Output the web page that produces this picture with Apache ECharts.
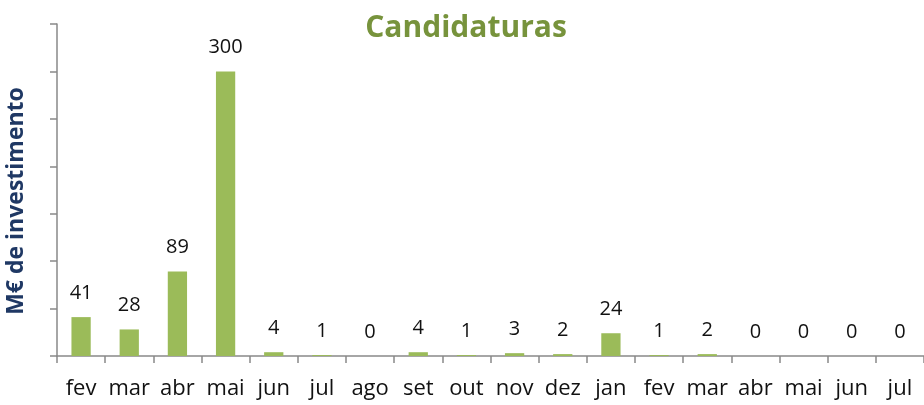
<!DOCTYPE html>
<html><head><meta charset="utf-8">
<script src="https://cdn.jsdelivr.net/npm/echarts@6/dist/echarts.min.js"></script>
<style>html,body{margin:0;padding:0;background:#fff}#c{width:924px;height:405px}</style>
</head><body><div id="c"></div>
<script>
const categories = ['fev','mar','abr','mai','jun','jul','ago','set','out','nov','dez','jan','fev','mar','abr','mai','jun','jul'];
const values = [41,28,89,300,4,1,0,4,1,3,2,24,1,2,0,0,0,0];
const yTicks = {min:0, max:350, interval:50};
const FONT = 'Open Sans';
const chart = echarts.init(document.getElementById('c'), null, {renderer:'canvas'});
chart.setOption({
  animation:false,
  title:{text:'Candidaturas', left:466, textAlign:'center', top:13, padding:[0,0,0,0],
    textStyle:{color:'#77933C', fontFamily:FONT, fontWeight:'bold', fontSize:30}},
  grid:{left:57, right:0, top:24, bottom:49, containLabel:false, outerBoundsMode:'none'},
  xAxis:{type:'category', data:categories,
    axisLine:{lineStyle:{color:'#898989', width:1.5}},
    axisTick:{show:true, length:7, alignWithLabel:false, lineStyle:{color:'#898989', width:1.5}},
    axisLabel:{color:'#111', fontFamily:FONT, fontSize:22, margin:22, interval:0}},
  yAxis:{type:'value', min:yTicks.min, max:yTicks.max, interval:yTicks.interval,
    name:'M€ de investimento', nameLocation:'middle', nameGap:29, nameRotate:90,
    nameTextStyle:{color:'#1F3864', fontFamily:FONT, fontWeight:'bold', fontSize:23, padding:[0,22,0,0]},
    axisLine:{show:true, lineStyle:{color:'#898989', width:1.5}},
    axisTick:{show:true, length:7, lineStyle:{color:'#898989', width:1.5}},
    axisLabel:{show:false}, splitLine:{show:false}},
  series:[{type:'bar', data:values, barWidth:'40%',
    itemStyle:{color:'#9BBB59'},
    label:{show:true, position:'top', distance:14, color:'#111', fontFamily:FONT, fontSize:20}}]
});
</script></body></html>
